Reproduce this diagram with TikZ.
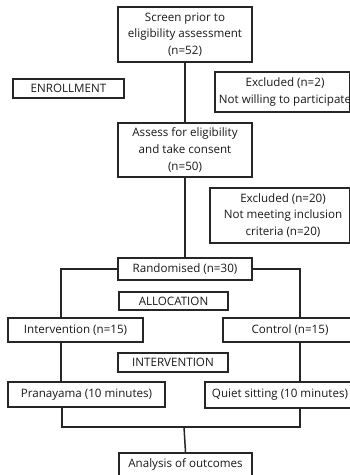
\documentclass[tikz,border=0pt]{standalone}
\usepackage{fontspec}
\setmainfont{Open Sans}
\begin{document}
\begin{tikzpicture}[x=1pt,y=-1pt,
  txt/.style={align=center,font=\fontsize{11.6}{16.6}\selectfont,text=black!90,inner sep=0pt},
  box/.style={txt,draw=black!85,line width=1.5pt},
  link/.style={draw=black!85,line width=1.5pt}]
\useasboundingbox (0,0) rectangle (350,475);
\fill[white] (0,0) rectangle (350,475);
\node[box,minimum width=134pt,minimum height=55pt] (screen) at (185,34.5) {Screen prior to\\eligibility assessment\\(n=52)};
\node[box,minimum width=111pt,minimum height=19pt] (enroll) at (68.5,88.5) {ENROLLMENT};
\node[box,minimum width=135pt,minimum height=40pt,anchor=west] (excl1) at (214,92) {};
\node[txt] (excl1t) at (285,92) {Excluded (n=2)\\Not willing to participate};
\node[box,minimum width=140pt,minimum height=55pt,anchor=west] (excl2) at (209,215.5) {};
\node[txt] (excl2t) at (283,215.5) {Excluded (n=20)\\Not meeting inclusion\\criteria (n=20)};
\node[box,minimum width=134pt,minimum height=54pt] (assess) at (185,150) {Assess for eligibility\\and take consent\\(n=50)};
\node[box,minimum width=134pt,minimum height=22pt] (rand) at (185,269) {Randomised (n=30)};
\node[box,minimum width=109pt,minimum height=18pt] (alloc) at (173.5,301) {ALLOCATION};
\node[box,minimum width=135pt,minimum height=24pt] (interv) at (75.5,330) {Intervention (n=15)};
\node[box,minimum width=134pt,minimum height=24pt] (control) at (290,330) {Control (n=15)};
\node[box,minimum width=110pt,minimum height=19pt] (ilabel) at (173,362.5) {INTERVENTION};
\node[box,minimum width=157pt,minimum height=25pt] (pran) at (86.5,394.5) {Pranayama (10 minutes)};
\node[box,minimum width=150pt,minimum height=26pt] (quiet) at (280,395) {Quiet sitting (10 minutes)};
\node[box,minimum width=133pt,minimum height=30pt,anchor=north] (analysis) at (185.5,452) {};
\node[txt] (analysist) at (185.5,464) {Analysis of outcomes};
\coordinate (iL) at (61,318);
\coordinate (cR) at (300,318);
\coordinate (pL) at (62,407);
\coordinate (m) at (184,427);
\draw[link] (screen.south) -- (assess.north);
\draw[link] (assess.south) -- (rand.north);
\draw[link] (rand.west) -| (iL);
\draw[link] (rand.east) -| (cR);
\draw[link] (iL |- interv.south) -- (iL |- pran.north);
\draw[link] (cR |- control.south) -- (cR |- quiet.north);
\draw[link] (pL) |- (m) -| (cR |- quiet.south);
\draw[link] (m) -- (analysis.north);
\end{tikzpicture}
\end{document}
